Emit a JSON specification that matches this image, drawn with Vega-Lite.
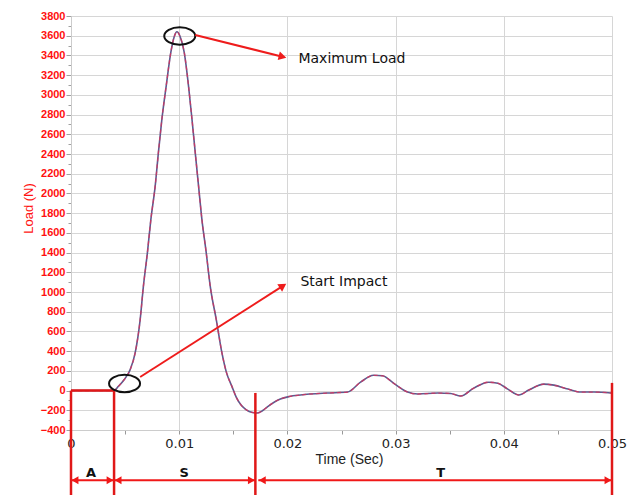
{
  "$schema": "https://vega.github.io/schema/vega-lite/v6.json",
  "width": 541,
  "height": 414,
  "autosize": "none",
  "padding": {"left": 71, "top": 16, "right": 22, "bottom": 65},
  "background": "white",
  "config": {"view": {"stroke": null}, "font": "Liberation Sans"},
  "datasets": {
    "curve": [
      {"t": 0, "load": 0},
      {"t": 0.00398, "load": 0},
      {"t": 0.00435, "load": 40},
      {"t": 0.00491, "load": 110},
      {"t": 0.00546, "load": 210},
      {"t": 0.00593, "load": 382},
      {"t": 0.00639, "load": 718},
      {"t": 0.00669, "load": 1057},
      {"t": 0.00706, "load": 1397},
      {"t": 0.00738, "load": 1735},
      {"t": 0.00778, "load": 2074},
      {"t": 0.00808, "load": 2417},
      {"t": 0.0084, "load": 2753},
      {"t": 0.0088, "load": 3092},
      {"t": 0.00923, "load": 3434},
      {"t": 0.00954, "load": 3590},
      {"t": 0.00979, "load": 3640},
      {"t": 0.01009, "load": 3590},
      {"t": 0.01046, "load": 3434},
      {"t": 0.01086, "load": 3092},
      {"t": 0.01118, "load": 2753},
      {"t": 0.01148, "load": 2417},
      {"t": 0.01179, "load": 2074},
      {"t": 0.0121, "load": 1735},
      {"t": 0.0125, "load": 1397},
      {"t": 0.01287, "load": 1057},
      {"t": 0.01343, "load": 718},
      {"t": 0.01395, "load": 382},
      {"t": 0.01435, "load": 190},
      {"t": 0.01488, "load": 40},
      {"t": 0.01528, "load": -70},
      {"t": 0.01574, "load": -150},
      {"t": 0.0162, "load": -195},
      {"t": 0.01676, "load": -222},
      {"t": 0.01722, "load": -228},
      {"t": 0.01769, "load": -205},
      {"t": 0.01815, "load": -165},
      {"t": 0.01935, "load": -85},
      {"t": 0.02019, "load": -60},
      {"t": 0.0212, "load": -45},
      {"t": 0.0237, "load": -25},
      {"t": 0.02556, "load": -15},
      {"t": 0.02676, "load": 85},
      {"t": 0.02796, "load": 155},
      {"t": 0.0288, "load": 150},
      {"t": 0.02981, "load": 75},
      {"t": 0.03111, "load": -15},
      {"t": 0.03204, "load": -35},
      {"t": 0.03389, "load": -25},
      {"t": 0.03509, "load": -30},
      {"t": 0.03602, "load": -55},
      {"t": 0.03722, "load": 25},
      {"t": 0.03861, "load": 85},
      {"t": 0.03944, "load": 75},
      {"t": 0.04037, "load": 15},
      {"t": 0.04139, "load": -45},
      {"t": 0.04231, "load": 5},
      {"t": 0.0437, "load": 65},
      {"t": 0.04463, "load": 55},
      {"t": 0.04593, "load": 15},
      {"t": 0.04713, "load": -15},
      {"t": 0.04833, "load": -15},
      {"t": 0.04991, "load": -25}
    ]
  },
  "layer": [
    {
      "data": {"name": "curve"},
      "mark": {"type": "line", "color": "#5e5a8e", "strokeWidth": 1.6, "interpolate": "monotone"},
      "encoding": {
        "x": {
          "field": "t", "type": "quantitative",
          "scale": {"domain": [0, 0.05], "nice": false, "zero": false},
          "axis": {
            "title": "Time (Sec)",
            "values": [0, 0.005, 0.01, 0.015, 0.02, 0.025, 0.03, 0.035, 0.04, 0.045, 0.05],
            "tickCount": 100,
            "format": ".3~f",
            "labelExpr": "round(datum.value*1000) % 10 === 0 ? format(datum.value, '.2~f') : ''",
            "labelFont": "DejaVu Sans", "labelFontSize": 13, "labelColor": "#222222",
            "labelPadding": 3, "labelFlush": false, "labelOverlap": false,
            "tickColor": "#999999", "tickSize": 4,
            "domainColor": "#cccccc",
            "gridColor": "#d6d6d6",
            "gridOpacity": {"condition": {"test": "round(datum.value*1000) % 10 !== 0", "value": 0}, "value": 1},
            "titleFont": "Liberation Sans", "titleFontSize": 14, "titleFontWeight": "normal", "titleColor": "#222222",
            "titlePadding": 2, "titleX": 278
          }
        },
        "y": {
          "field": "load", "type": "quantitative",
          "scale": {"domain": [-400, 3800], "nice": false, "zero": false},
          "axis": {
            "title": "Load (N)",
            "values": [-400, -300, -200, -100, 0, 100, 200, 300, 400, 500, 600, 700, 800, 900, 1000, 1100, 1200, 1300, 1400, 1500, 1600, 1700, 1800, 1900, 2000, 2100, 2200, 2300, 2400, 2500, 2600, 2700, 2800, 2900, 3000, 3100, 3200, 3300, 3400, 3500, 3600, 3700, 3800],
            "tickCount": 100,
            "format": "d",
            "labelExpr": "datum.value % 200 === 0 ? datum.label : ''",
            "labelFont": "Liberation Sans", "labelFontWeight": "bold", "labelFontSize": 11, "labelColor": "#ff1010",
            "labelPadding": 1, "labelFlush": false, "labelOverlap": false,
            "tickColor": "#a0a0a0",
            "tickSize": {"condition": {"test": "datum.value % 200 !== 0", "value": 3}, "value": 5},
            "domainColor": "#cccccc",
            "gridColor": "#d6d6d6",
            "gridOpacity": {"condition": {"test": "datum.value % 200 !== 0", "value": 0}, "value": 1},
            "titleColor": "#ff1414", "titleFontSize": 13, "titleFontWeight": "normal",
            "titlePadding": 5, "titleY": 192
          }
        }
      }
    },
    {
      "data": {"name": "curve"},
      "mark": {"type": "line", "color": "#e0305a", "strokeWidth": 1.3, "strokeDash": [4, 3], "opacity": 0.75, "interpolate": "monotone"},
      "encoding": {
        "x": {"field": "t", "type": "quantitative"},
        "y": {"field": "load", "type": "quantitative"}
      }
    },
    {
      "data": {"values": [{"t": 0, "t2": 0.00398, "load": 0}]},
      "mark": {"type": "rule", "color": "#e01818", "strokeWidth": 2.5},
      "encoding": {
        "x": {"field": "t", "type": "quantitative"},
        "x2": {"field": "t2"},
        "y": {"field": "load", "type": "quantitative"}
      }
    },
    {
      "data": {"values": [
        {"t": 0, "load": 0, "load2": -1070},
        {"t": 0.00398, "load": 0, "load2": -1070},
        {"t": 0.01704, "load": -24, "load2": -1070},
        {"t": 0.05, "load": 78, "load2": -1070}
      ]},
      "mark": {"type": "rule", "color": "#e01818", "strokeWidth": 2.5},
      "encoding": {
        "x": {"field": "t", "type": "quantitative"},
        "y": {"field": "load", "type": "quantitative"},
        "y2": {"field": "load2"}
      }
    },
    {
      "data": {"values": [
        {"t": 0, "t2": 0.00398, "load": -909},
        {"t": 0.00398, "t2": 0.01704, "load": -909},
        {"t": 0.01731, "t2": 0.05, "load": -909}
      ]},
      "mark": {"type": "rule", "color": "#f01818", "strokeWidth": 2},
      "encoding": {
        "x": {"field": "t", "type": "quantitative"},
        "x2": {"field": "t2"},
        "y": {"field": "load", "type": "quantitative"}
      }
    },
    {
      "data": {"values": [
        {"t": 0, "load": -909},
        {"t": 0.00398, "load": -909},
        {"t": 0.01731, "load": -909}
      ]},
      "mark": {"type": "point", "shape": "triangle-left", "filled": true, "color": "#f01818", "opacity": 1, "size": 64, "xOffset": 4},
      "encoding": {
        "x": {"field": "t", "type": "quantitative"},
        "y": {"field": "load", "type": "quantitative"}
      }
    },
    {
      "data": {"values": [
        {"t": 0.00398, "load": -909},
        {"t": 0.01704, "load": -909},
        {"t": 0.05, "load": -909}
      ]},
      "mark": {"type": "point", "shape": "triangle-right", "filled": true, "color": "#f01818", "opacity": 1, "size": 64, "xOffset": -4},
      "encoding": {
        "x": {"field": "t", "type": "quantitative"},
        "y": {"field": "load", "type": "quantitative"}
      }
    },
    {
      "data": {"values": [
        {"t": 0.00185, "load": -838, "label": "A"},
        {"t": 0.01046, "load": -838, "label": "S"},
        {"t": 0.03417, "load": -838, "label": "T"}
      ]},
      "mark": {"type": "text", "font": "DejaVu Sans", "fontWeight": "bold", "fontSize": 13, "color": "#111111", "align": "center", "baseline": "middle"},
      "encoding": {
        "x": {"field": "t", "type": "quantitative"},
        "y": {"field": "load", "type": "quantitative"},
        "text": {"field": "label"}
      }
    },
    {
      "data": {"values": [
        {"t": 0.01005, "load": 3597},
        {"t": 0.00495, "load": 72}
      ]},
      "mark": {"type": "point", "shape": "M -1 0 A 1 0.56 0 1 1 1 0 A 1 0.56 0 1 1 -1 0 Z", "filled": false, "stroke": "#111111", "strokeWidth": 2, "opacity": 1, "size": 961},
      "encoding": {
        "x": {"field": "t", "type": "quantitative"},
        "y": {"field": "load", "type": "quantitative"}
      }
    },
    {
      "data": {"values": [
        {"t": 0.01148, "load": 3607, "t2": 0.01955, "load2": 3387},
        {"t": 0.00639, "load": 138, "t2": 0.01959, "load2": 1062}
      ]},
      "mark": {"type": "rule", "color": "#ee1c1c", "strokeWidth": 2},
      "encoding": {
        "x": {"field": "t", "type": "quantitative"},
        "x2": {"field": "t2"},
        "y": {"field": "load", "type": "quantitative"},
        "y2": {"field": "load2"}
      }
    },
    {
      "data": {"values": [{"t": 0.01955, "load": 3387}]},
      "mark": {"type": "point", "shape": "triangle-right", "filled": true, "color": "#ee1c1c", "opacity": 1, "size": 80, "angle": 14},
      "encoding": {
        "x": {"field": "t", "type": "quantitative"},
        "y": {"field": "load", "type": "quantitative"}
      }
    },
    {
      "data": {"values": [{"t": 0.01959, "load": 1062}]},
      "mark": {"type": "point", "shape": "triangle-right", "filled": true, "color": "#ee1c1c", "opacity": 1, "size": 80, "angle": -32.5},
      "encoding": {
        "x": {"field": "t", "type": "quantitative"},
        "y": {"field": "load", "type": "quantitative"}
      }
    },
    {
      "data": {"values": [
        {"t": 0.02102, "load": 3363, "label": "Maximum Load"},
        {"t": 0.0212, "load": 1105, "label": "Start Impact"}
      ]},
      "mark": {"type": "text", "font": "DejaVu Sans", "fontSize": 14, "color": "#111111", "align": "left", "baseline": "middle"},
      "encoding": {
        "x": {"field": "t", "type": "quantitative"},
        "y": {"field": "load", "type": "quantitative"},
        "text": {"field": "label"}
      }
    }
  ]
}
